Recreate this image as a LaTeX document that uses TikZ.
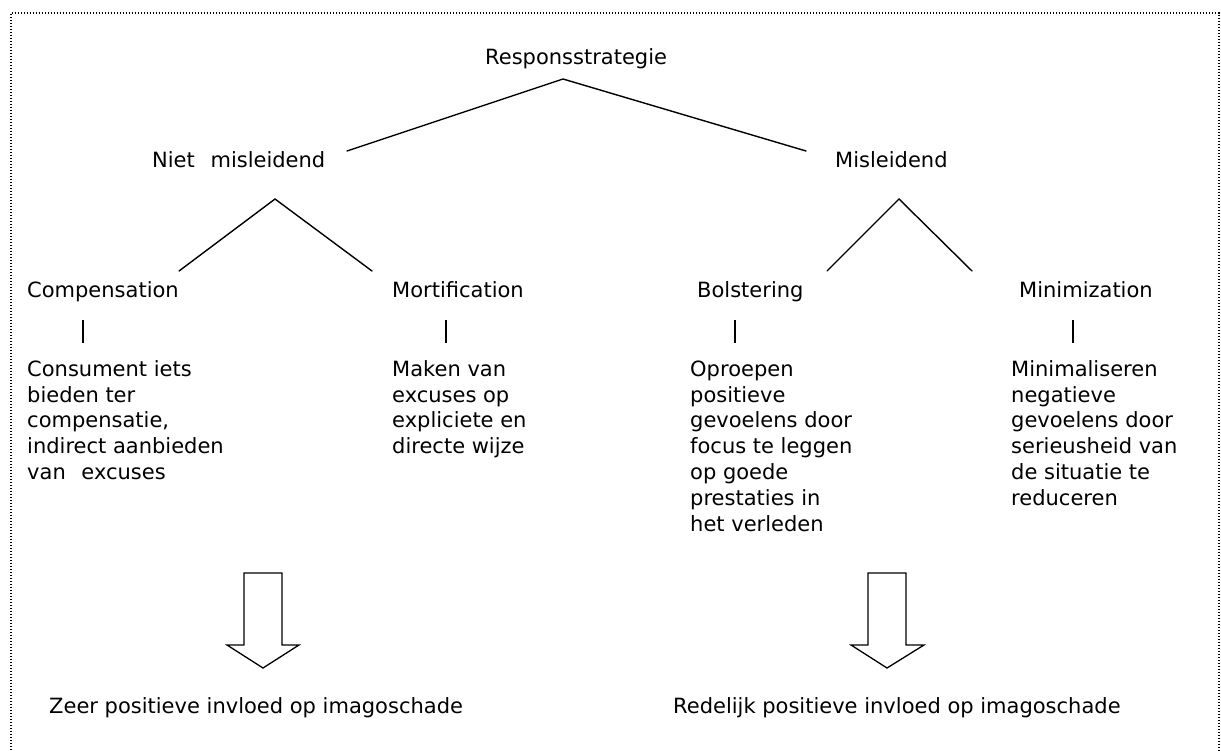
\documentclass[tikz,border=0pt]{standalone}
\usepackage{fontspec}
\setmainfont{DejaVu Sans}
\begin{document}
\begin{tikzpicture}[x=1pt,y=-1pt,
  lbl/.style={anchor=base west,inner sep=0pt,font=\fontsize{21}{25.8}\selectfont},
  desc/.style={lbl,align=left,anchor=north west},
  branch/.style={line width=1.4pt,line cap=round},
  blockarrow/.style={draw,line width=1.3pt,line join=miter,fill=white}]
\useasboundingbox (0,0) rectangle (1221,751);
% dotted frame (its bottom edge runs below the page)
\begin{scope}
\clip (0,0) rectangle (1221,751);
\draw[line width=1.2pt,dash pattern=on 1.2pt off 1.8pt] (11,780) -- (11,13) -- (1219,13) -- (1219,780);
\end{scope}

% labels
\node[lbl] (root) at (485,65) {Responsstrategie};
\node[lbl] (niet) at (152,168) {Niet\hspace{9pt} misleidend};
\node[lbl] (mis)  at (835,168) {Misleidend};
\node[lbl] (comp) at (27,298) {Compensation};
\node[lbl] (mort) at (392,298) {Mortification};
\node[lbl] (bols) at (697,298) {Bolstering};
\node[lbl] (mini) at (1019,298) {Minimization};

% descriptions (first baseline at 376)
\node[desc] (dcomp) at (27,376) {\vspace*{-15.3pt}\\[-25.8pt]Consument iets\\bieden ter\\compensatie,\\indirect aanbieden\\van\hspace{9pt} excuses};
\node[desc] (dmort) at (392,376) {\vspace*{-15.3pt}\\[-25.8pt]Maken van\\excuses op\\expliciete en\\directe wijze};
\node[desc] (dbols) at (690,376) {\vspace*{-15.3pt}\\[-25.8pt]Oproepen\\positieve\\gevoelens door\\focus te leggen\\op goede\\prestaties in\\het verleden};
\node[desc] (dmini) at (1011,376) {\vspace*{-15.3pt}\\[-25.8pt]Minimaliseren\\negatieve\\gevoelens door\\serieusheid van\\de situatie te\\reduceren};

\node[lbl] (effa) at (49,713) {Zeer positieve invloed op imagoschade};
\node[lbl] (effb) at (673,713) {Redelijk positieve invloed op imagoschade};

% branch points
\coordinate (top)  at (563,79);
\coordinate (topL) at (347,151);
\coordinate (topR) at (806,151);
\coordinate (nA) at (275,199);
\coordinate (nL) at (179,271);
\coordinate (nR) at (372,271);
\coordinate (mA) at (899,199);
\coordinate (mL) at (827,271);
\coordinate (mR) at (972,271);

\draw[branch] (topL) -- (top) -- (topR);
\draw[branch] (nL) -- (nA) -- (nR);
\draw[branch] (mL) -- (mA) -- (mR);

% short links from strategy to description
\foreach \x/\n in {83/a,446/b,735/c,1073/d}{
  \coordinate (s\n) at (\x,320);
  \coordinate (e\n) at (\x,343);
  \draw[line width=1.3pt] (s\n) -- (e\n);
}

% block arrows towards the effect
\draw[blockarrow] (244,573) -- (282,573) -- (282,645) -- (299,645) -- (263,668) -- (227,645) -- (244,645) -- cycle;
\draw[blockarrow] (868,573) -- (906,573) -- (906,645) -- (924,645) -- (887,668) -- (851,645) -- (868,645) -- cycle;
\end{tikzpicture}
\end{document}
